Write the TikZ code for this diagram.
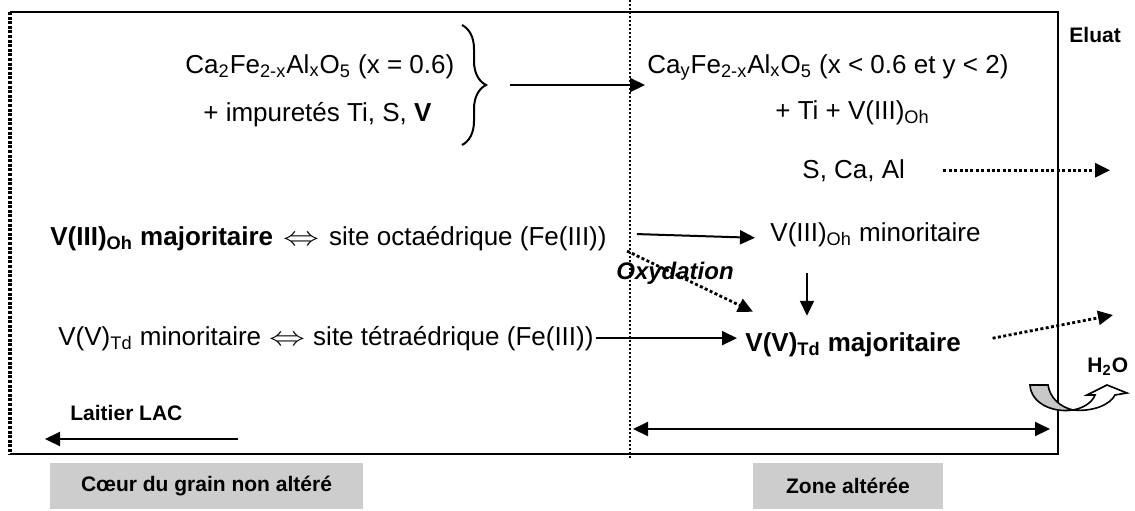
\documentclass[tikz,border=0pt]{standalone}
\usepackage{fontspec}
\setmainfont{Liberation Sans}
\usepackage{tikz}
\usetikzlibrary{arrows.meta,calc,decorations.pathreplacing}
\definecolor{bandGray} {RGB}{200, 200, 200}
\definecolor{labelGray}{RGB}{205, 205, 205}

\tikzset{
  mainTxt/.style={font=\fontsize{13}{15}\selectfont,inner sep=0pt,anchor=base west},
  smallTxt/.style={font=\fontsize{10.5}{12}\selectfont\bfseries,inner sep=0pt,anchor=base west},
  arr/.style={-{Triangle[length=7.5pt,width=7pt]},line width=1pt},
  dotArr/.style={-{Triangle[length=7.5pt,width=7pt]},line width=1.4pt,
                 dash pattern=on 1.5pt off 1.2pt},
  zoneBox/.style={fill=labelGray,font=\fontsize{10.5}{12}\selectfont\bfseries,
                  minimum height=23pt,inner sep=0pt}
}

\begin{document}
\begin{tikzpicture}[x=0.5pt,y=-0.5pt]
    \useasboundingbox (0,0) rectangle (1135,510);

    % ════════ grain (cadre) ════════
    \draw[line width=1pt] (10,12) -- (1058,12) -- (1058,454) -- (10,454);
    \draw[line width=1.8pt,dash pattern=on 1.5pt off 0.8pt] (10,12) -- (10,454);
    % limite coeur / zone alteree
    \draw[line width=1pt,dash pattern=on 1pt off 1pt] (630,0) -- (630,458);

    % ════════ COEUR (lado esquerdo) ════════
    \node[mainTxt] (cafeCoeur) at (185,73)
      {Ca\textsubscript{2}Fe\textsubscript{2-x}Al\textsubscript{x}O\textsubscript{5} (x = 0.6)};
    \node[mainTxt] (impCoeur) at (203,121){+ impuretés Ti, S, \textbf{V}};
    \draw[line width=1pt,decorate,decoration={brace,amplitude=12pt}]
      (462,25) -- (462,145);
    \coordinate (braceTip) at (487,85);

    \node[mainTxt] (octaL) at (50,245)
      {\textbf{V(III)\textsubscript{Oh} majoritaire}\hspace{5pt}\scalebox{1.5}[1.1]{$\Leftrightarrow$}\hspace{5pt}site octaédrique (Fe(III))};
    \node[mainTxt] (tetraL) at (58,345)
      {V(V)\textsubscript{Td} minoritaire\hspace{4pt}\scalebox{1.5}[1.1]{$\Leftrightarrow$}\hspace{4pt}site tétraédrique (Fe(III))};

    \node[smallTxt] (laitier) at (70,420){Laitier LAC};
    \coordinate (laitierA) at (238,439);
    \coordinate (laitierB) at (45,439);
    \draw[arr] (laitierA) -- (laitierB);

    % ════════ ZONE ALTEREE (lado direito) ════════
    \node[mainTxt] (cafeZone) at (647,73)
      {Ca\textsubscript{y}Fe\textsubscript{2-x}Al\textsubscript{x}O\textsubscript{5} (x < 0.6 et y < 2)};
    \node[mainTxt] (tiZone) at (775,119){+ Ti + V(III)\textsubscript{Oh}};
    \node[mainTxt] (scaZone) at (802,178){S, Ca, Al};
    \node[mainTxt] (vOhMin) at (770,241){V(III)\textsubscript{Oh} minoritaire};
    \node[mainTxt,font=\fontsize{13}{15}\selectfont\bfseries] (vVMaj) at (745,351)
      {V(V)\textsubscript{Td} majoritaire};
    \node[font=\fontsize{12}{14}\selectfont\bfseries\itshape,inner sep=0pt]
      (oxy) at (675,273){Oxydation};

    % eluat
    \node[smallTxt] (eluat) at (1069,42){Eluat};
    \node[smallTxt] (eau) at (1087,372){H\textsubscript{2}O};
    \coordinate (eluatA) at (1110,170);
    \coordinate (eluatB) at (1113,315);
    \coordinate (oxStart) at (627,251);
    \coordinate (downX) at (807,0);

    % fleches
    \draw[arr,shorten >=1pt] ([xshift=11.5pt]braceTip) -- (cafeZone.west |- braceTip);
    \draw[dotArr] ([xshift=19pt]scaZone.east) -- (scaZone.east -| eluatA);
    \draw[arr,shorten <=15pt,shorten >=7.5pt]
      ([yshift=2.5pt]octaL.east) -- ([yshift=-2pt]vOhMin.west);
    \draw[dotArr] (oxStart) -- ([xshift=4pt,yshift=10pt]vVMaj.north west);
    \draw[arr,shorten <=13pt,shorten >=8pt] (vOhMin.south -| downX) -- (vVMaj.north -| downX);
    \draw[arr,shorten <=1pt,shorten >=4pt] (tetraL.east) -- (tetraL.east -| vVMaj.west);
    \draw[dotArr,shorten <=16pt] (vVMaj.east) -- (eluatB);

    % lixiviation (fleche courbe)
    \filldraw[fill=bandGray,line width=0.8pt] (1030,385) -- (1048,385)
      .. controls (1050,398) and (1060,407) .. (1073,410)
      .. controls (1052,413) and (1031,403) .. (1030,385) -- cycle;
    \filldraw[fill=white,line width=0.8pt] (1073,410)
      .. controls (1092,412) and (1110,405) .. (1115,395) -- (1127,393)
      -- (1107,385) -- (1087,395) -- (1095,395)
      .. controls (1092,403) and (1083,408) .. (1073,410) -- cycle;

    % double fleche zone alteree
    \coordinate (zoneL) at (633,429);
    \coordinate (zoneR) at (1050,429);
    \draw[{Triangle[length=7.5pt,width=7pt]}-{Triangle[length=7.5pt,width=7pt]},
          line width=1pt] (zoneL) -- (zoneR);

    % ════════ etiquettes ════════
    \foreach \name/\txt/\xa/\xb in {coeurLbl/{Cœur du grain non altéré}/50/363,
                                    zoneLbl/{Zone altérée}/753/943}{
      \node[zoneBox,minimum width=(\xb-\xa)*0.5pt] (\name) at ({(\xa+\xb)/2},486){\txt};
    }

\end{tikzpicture}
\end{document}
